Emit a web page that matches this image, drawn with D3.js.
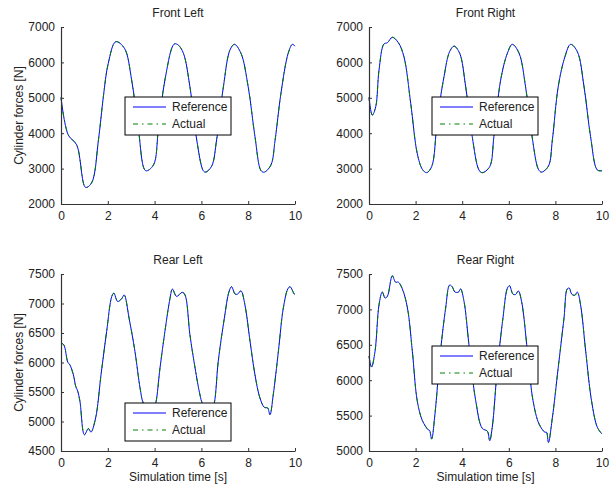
<!DOCTYPE html>
<html>
<head>
<meta charset="utf-8">
<script src="https://cdn.jsdelivr.net/npm/d3@7"></script>
<style>
  body { margin: 0; background: #fff; }
  svg text { font-family: "Liberation Sans", Arial, sans-serif; fill: #222; }
</style>
</head>
<body>
<svg id="chart" width="613" height="486"></svg>
<script>
// simulation time [s] and cylinder force [N]
const timeFL  = [0, 0.31, 0.67, 1.05, 1.31, 1.6, 1.81, 2.02, 2.34, 2.71, 3.02, 3.31, 3.62, 3.95, 4.16, 4.44, 4.84, 5.01, 5.23, 5.51, 5.8, 6.08, 6.18, 6.44, 6.65, 6.94, 7.22, 7.41, 7.69, 8.0, 8.29, 8.55, 8.69, 8.97, 9.15, 9.4, 9.71, 9.89, 10];
const forceFL = [5010, 3950, 3670, 2470, 2600, 3810, 5030, 5975, 6585, 6400, 5500, 4090, 2940, 3100, 4090, 5500, 6520, 6490, 6260, 5310, 3810, 2940, 2900, 3070, 3810, 5310, 6350, 6510, 6260, 5310, 3900, 2940, 2900, 3100, 3810, 5130, 6260, 6510, 6460];

const timeFR  = [0, 0.14, 0.29, 0.43, 0.64, 0.79, 1.0, 1.26, 1.5, 1.79, 2.07, 2.29, 2.47, 2.69, 2.93, 3.22, 3.46, 3.65, 3.89, 4.15, 4.43, 4.72, 4.86, 5.18, 5.36, 5.65, 5.94, 6.15, 6.44, 6.72, 7.0, 7.27, 7.4, 7.7, 7.87, 8.12, 8.41, 8.65, 8.94, 9.23, 9.51, 9.8, 10];
const forceFR = [5010, 4510, 4750, 5785, 6520, 6556, 6710, 6556, 6160, 4845, 3430, 2980, 2885, 3055, 4370, 5600, 6305, 6460, 6260, 5310, 3900, 2960, 2885, 3055, 3900, 5500, 6260, 6510, 6260, 5310, 3900, 2980, 2900, 3070, 3810, 5310, 6160, 6510, 6305, 5310, 3900, 2960, 2940];

const timeRL  = [0, 0.12, 0.29, 0.38, 0.53, 0.63, 0.71, 0.81, 1.0, 1.17, 1.28, 1.48, 1.71, 1.95, 2.17, 2.26, 2.42, 2.59, 2.7, 2.91, 3.16, 3.38, 3.52, 3.75, 3.9, 4.05, 4.23, 4.44, 4.66, 4.76, 4.94, 5.18, 5.3, 5.51, 5.73, 5.94, 6.04, 6.25, 6.4, 6.55, 6.72, 6.98, 7.18, 7.29, 7.44, 7.55, 7.69, 7.86, 8.08, 8.29, 8.5, 8.69, 8.83, 8.93, 9.07, 9.29, 9.5, 9.69, 9.79, 9.97, 10];
const forceRL = [6330, 6300, 6005, 5960, 5790, 5595, 5520, 5340, 4775, 4880, 4820, 5060, 5790, 6525, 7120, 7175, 7035, 7080, 7145, 6750, 6190, 5565, 5310, 5200, 5130, 5310, 5905, 6525, 7090, 7245, 7120, 7190, 7145, 6470, 5905, 5450, 5310, 5200, 5130, 5310, 6020, 6750, 7200, 7285, 7160, 7160, 7215, 6975, 6355, 5790, 5400, 5240, 5230, 5115, 5450, 6190, 6920, 7245, 7285, 7160, 7160];

const timeRR  = [0, 0.11, 0.26, 0.43, 0.57, 0.69, 0.79, 1.0, 1.14, 1.26, 1.43, 1.65, 1.86, 2.07, 2.29, 2.54, 2.6, 2.69, 2.83, 3.07, 3.29, 3.46, 3.57, 3.69, 3.84, 3.93, 4.08, 4.29, 4.58, 4.86, 5.08, 5.18, 5.29, 5.51, 5.75, 5.94, 6.03, 6.18, 6.29, 6.41, 6.55, 6.8, 7.04, 7.3, 7.55, 7.62, 7.7, 7.87, 8.12, 8.37, 8.51, 8.6, 8.7, 8.84, 8.94, 9.08, 9.3, 9.55, 9.8, 10];
const forceRR = [6340, 6185, 6410, 7065, 7245, 7160, 7185, 7475, 7385, 7385, 7290, 7020, 6410, 5710, 5430, 5300, 5290, 5170, 5520, 6410, 7020, 7345, 7320, 7245, 7245, 7290, 7110, 6500, 5710, 5320, 5280, 5145, 5335, 6175, 6880, 7300, 7335, 7215, 7210, 7260, 7110, 6410, 5710, 5380, 5265, 5265, 5120, 5470, 6175, 6880, 7290, 7300, 7215, 7200, 7245, 7065, 6410, 5710, 5335, 5240];

// the actual force tracks the reference so closely that the two traces overlap
const actualFL = forceFL, actualFR = forceFR, actualRL = forceRL, actualRR = forceRR;

const xTicks = [0, 2, 4, 6, 8, 10];
const yTicksFront = [2000, 3000, 4000, 5000, 6000, 7000];
const yTicksRL = [4500, 5000, 5500, 6000, 6500, 7000, 7500];
const yTicksRR = [5000, 5500, 6000, 6500, 7000, 7500];
const seriesNames = ["Reference", "Actual"];

const panels = [
  { title: "Front Left",  t: timeFL, ref: forceFL, act: actualFL, yTicks: yTicksFront,
    left: 61,  right: 295, top: 27,  bottom: 204, leg: [125, 97],  ylab: true,  xlab: false },
  { title: "Front Right", t: timeFR, ref: forceFR, act: actualFR, yTicks: yTicksFront,
    left: 369, right: 602, top: 27,  bottom: 204, leg: [432, 97],  ylab: false, xlab: false },
  { title: "Rear Left",   t: timeRL, ref: forceRL, act: actualRL, yTicks: yTicksRL,
    left: 61,  right: 295, top: 274, bottom: 451, leg: [125, 403], ylab: true,  xlab: true },
  { title: "Rear Right",  t: timeRR, ref: forceRR, act: actualRR, yTicks: yTicksRR,
    left: 369, right: 602, top: 274, bottom: 451, leg: [432, 346], ylab: false, xlab: true }
];

const dashDot = "5,4,1.5,4";
const svg = d3.select("#chart");

panels.forEach(p => {
  const x = d3.scaleLinear().domain([0, 10]).range([p.left, p.right]);
  const y = d3.scaleLinear()
    .domain(d3.extent(p.yTicks))
    .range([p.bottom, p.top]);

  const g = svg.append("g");

  const line = d3.line()
    .x((d, i) => x(p.t[i]))
    .y(d => y(d))
    .curve(d3.curveCatmullRom.alpha(0.5));

  g.append("path")
    .attr("fill", "none")
    .attr("stroke", "#0000ff")
    .attr("stroke-width", 1)
    .attr("d", line(p.ref));

  g.append("path")
    .attr("fill", "none")
    .attr("stroke", "#008000")
    .attr("stroke-width", 1)
    .attr("stroke-dasharray", dashDot)
    .attr("d", line(p.act));

  // axes, ticks pointing inward like matlab
  const xAxis = d3.axisBottom(x).tickValues(xTicks).tickFormat(d3.format("d"))
    .tickSizeInner(-3).tickSizeOuter(0).tickPadding(7);
  const yAxis = d3.axisLeft(y).tickValues(p.yTicks).tickFormat(d3.format("d"))
    .tickSizeInner(-3).tickSizeOuter(0).tickPadding(6);

  const gx = g.append("g")
    .attr("transform", "translate(0," + p.bottom + ")")
    .call(xAxis);
  const gy = g.append("g")
    .attr("transform", "translate(" + p.left + ",0)")
    .call(yAxis);

  [gx, gy].forEach(a => {
    a.select(".domain").attr("stroke", "#333").attr("stroke-width", 1.2);
    a.selectAll(".tick line").attr("stroke", "#333");
    a.selectAll("text").style("font-size", "12px").attr("fill", "#222");
  });

  g.append("text")
    .attr("x", (p.left + p.right) / 2)
    .attr("y", p.top - 10)
    .attr("text-anchor", "middle")
    .style("font-size", "12px")
    .text(p.title);

  if (p.ylab) {
    g.append("text")
      .attr("transform", "rotate(-90)")
      .attr("x", -(p.top + p.bottom) / 2)
      .attr("y", 23)
      .attr("text-anchor", "middle")
      .style("font-size", "12px")
      .text("Cylinder forces [N]");
  }
  if (p.xlab) {
    g.append("text")
      .attr("x", (p.left + p.right) / 2)
      .attr("y", p.bottom + 30)
      .attr("text-anchor", "middle")
      .style("font-size", "12px")
      .text("Simulation time [s]");
  }

  // legend
  const lg = g.append("g").attr("transform", "translate(" + p.leg[0] + "," + p.leg[1] + ")");
  lg.append("rect")
    .attr("width", 106).attr("height", 38)
    .attr("fill", "#fff").attr("stroke", "#000").attr("stroke-width", 1);
  seriesNames.forEach((name, i) => {
    const yy = 10 + i * 17;
    lg.append("line")
      .attr("x1", 8).attr("x2", 41).attr("y1", yy).attr("y2", yy)
      .attr("stroke", i === 0 ? "#0000ff" : "#008000")
      .attr("stroke-width", 1)
      .attr("stroke-dasharray", i === 0 ? null : dashDot);
    lg.append("text")
      .attr("x", 47).attr("y", yy + 4)
      .style("font-size", "12px")
      .text(name);
  });
});
</script>
</body>
</html>
